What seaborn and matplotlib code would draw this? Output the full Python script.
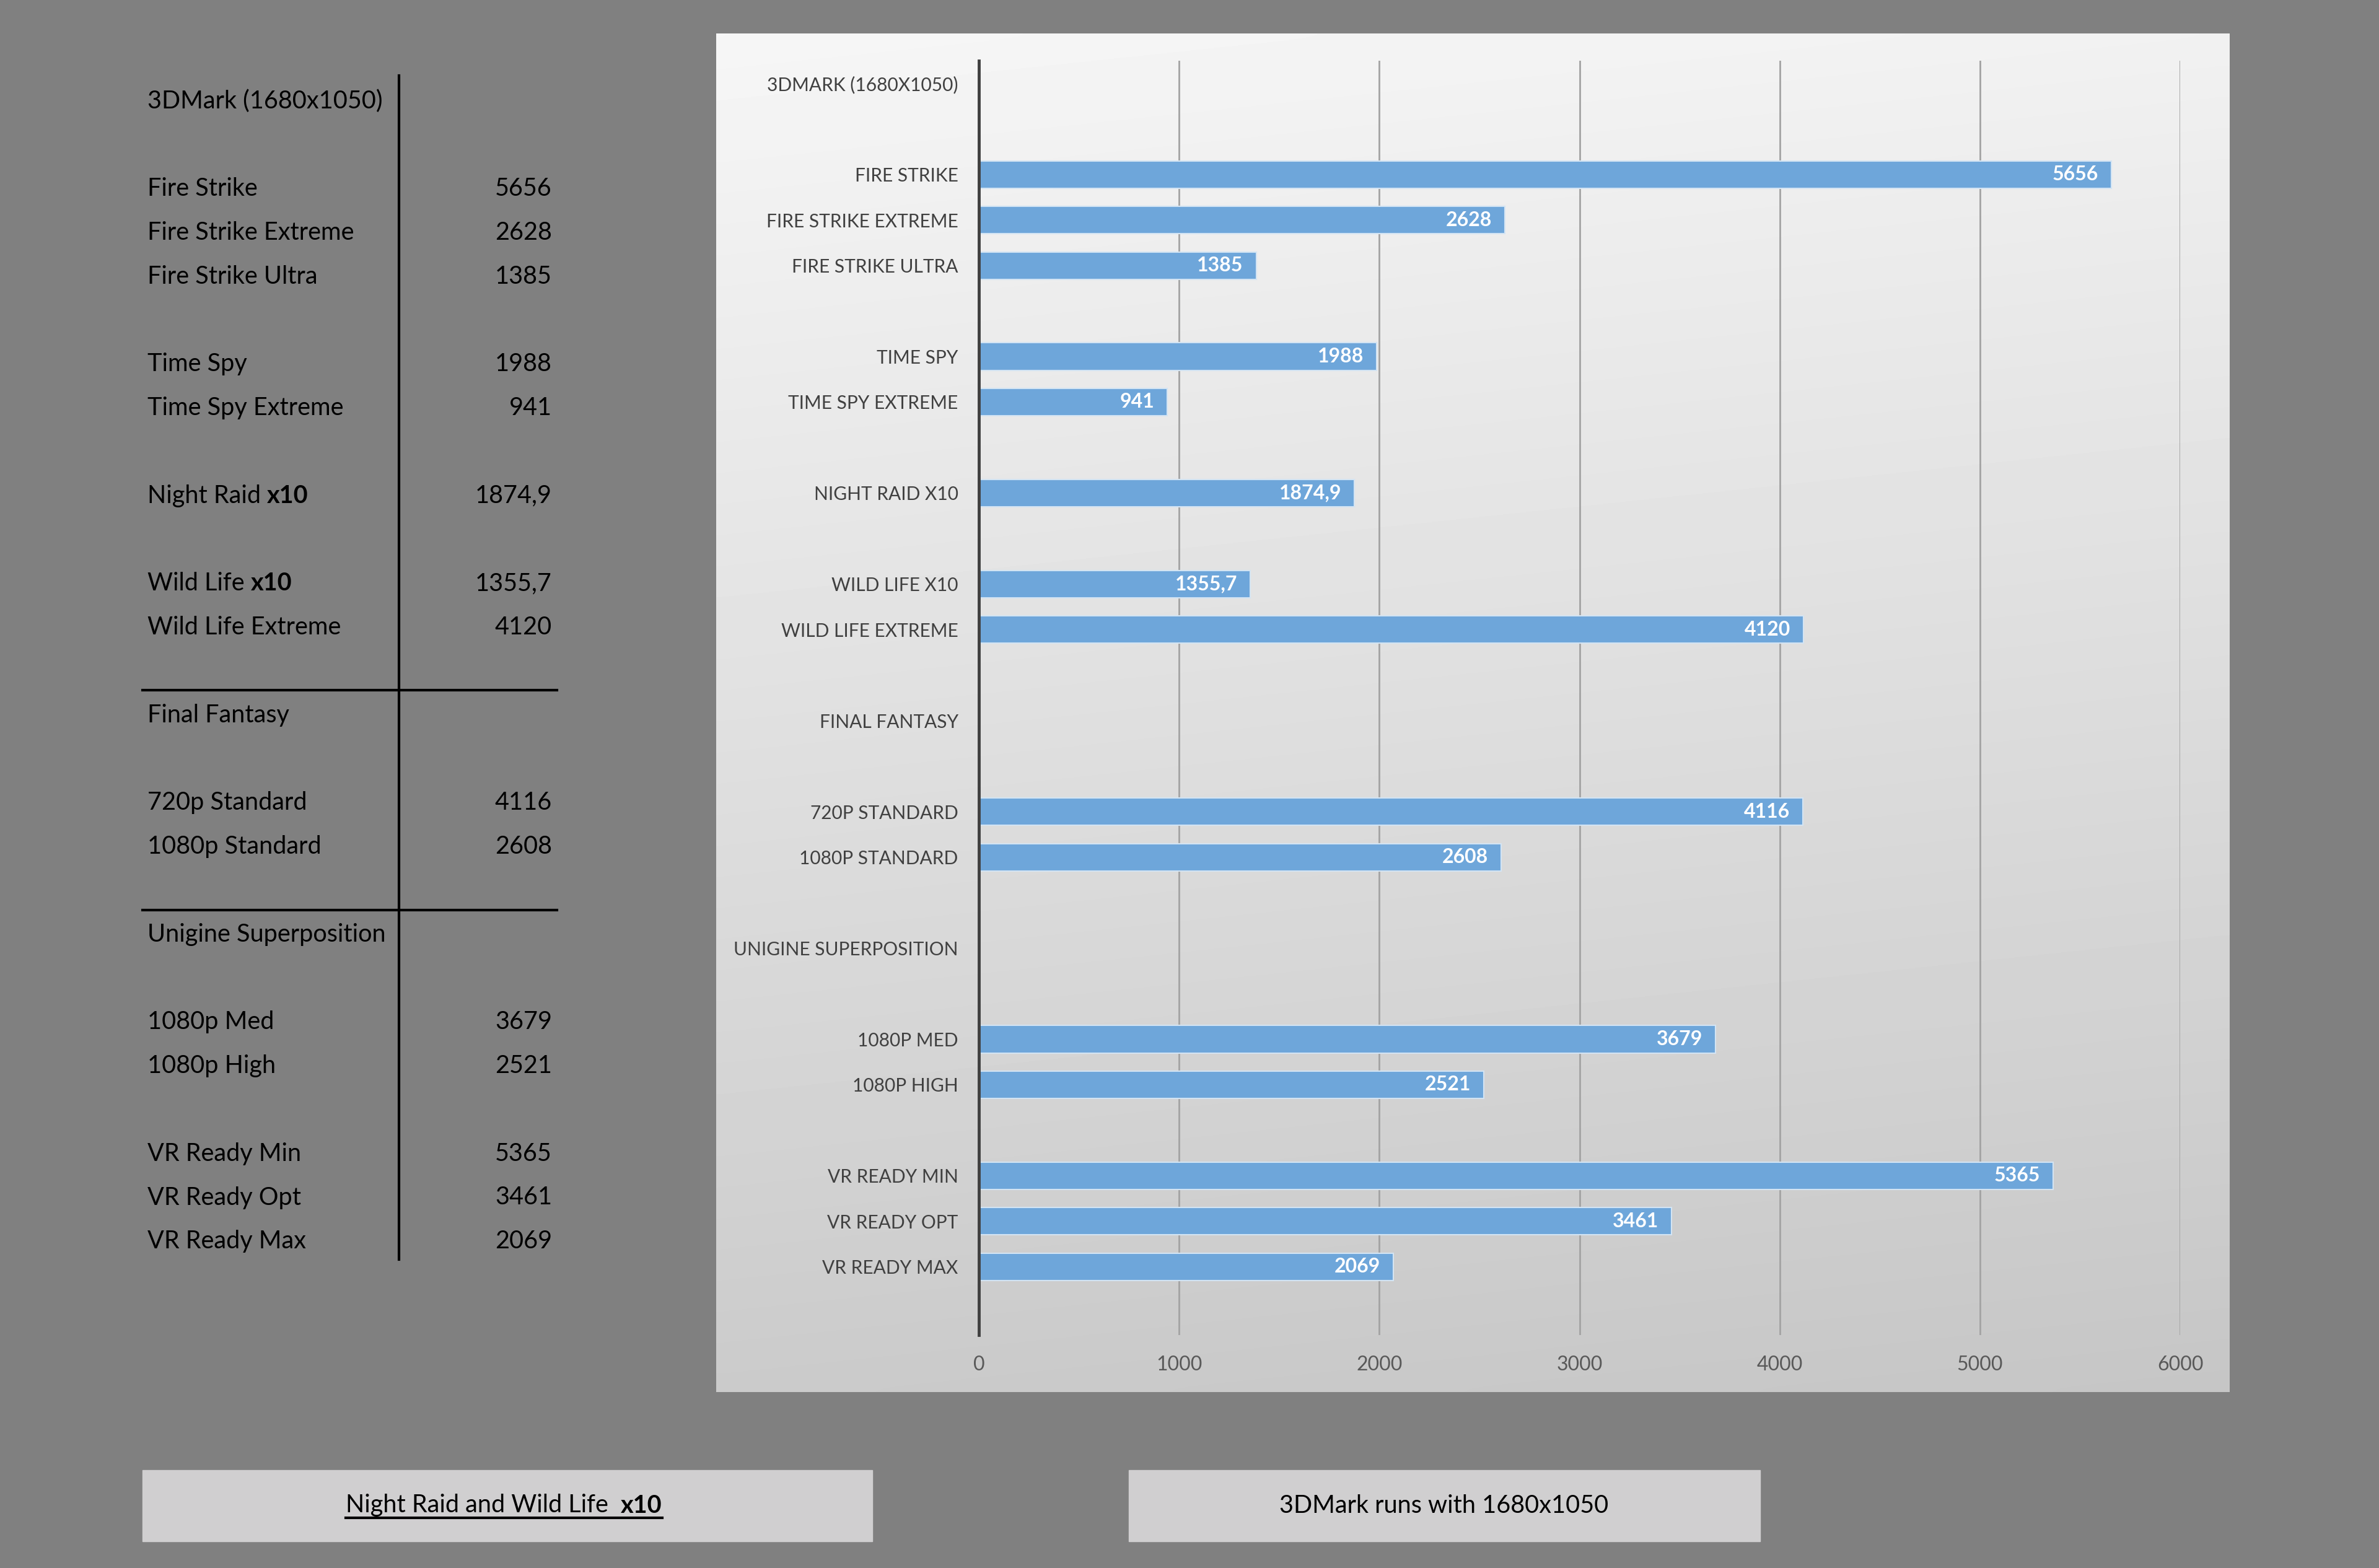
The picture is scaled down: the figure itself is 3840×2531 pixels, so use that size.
import numpy as np
import pandas as pd
import matplotlib
matplotlib.use("Agg")
import matplotlib.pyplot as plt
import seaborn as sns

nan = np.nan

# one entry per row of the table / chart (blank rows included)
table_labels = ["3DMark (1680x1050)", "", "Fire Strike", "Fire Strike Extreme", "Fire Strike Ultra", "",
                "Time Spy", "Time Spy Extreme", "", "Night Raid x10", "", "Wild Life x10", "Wild Life Extreme", "",
                "Final Fantasy", "", "720p Standard", "1080p Standard", "", "Unigine Superposition", "",
                "1080p Med", "1080p High", "", "VR Ready Min", "VR Ready Opt", "VR Ready Max"]
scores = [nan, nan, 5656, 2628, 1385, nan, 1988, 941, nan, 1874.9, nan, 1355.7, 4120, nan,
          nan, nan, 4116, 2608, nan, nan, nan, 3679, 2521, nan, 5365, 3461, 2069]
score_text = ["", "", "5656", "2628", "1385", "", "1988", "941", "", "1874,9", "", "1355,7", "4120", "",
              "", "", "4116", "2608", "", "", "", "3679", "2521", "", "5365", "3461", "2069"]
x_ticks = [0, 1000, 2000, 3000, 4000, 5000, 6000]
note_left = "Night Raid and Wild Life  "
note_left_bold = "x10"
note_right = "3DMark runs with 1680x1050"

FONT = ["Lato", "DejaVu Sans"]
plt.rcParams["font.family"] = FONT

W, H = 3840, 2531
fig = plt.figure(figsize=(W / 100, H / 100), dpi=100, facecolor="#808080")

# page overlay in pixel coords for the table and note boxes
page = fig.add_axes([0, 0, 1, 1])
page.set_xlim(0, W)
page.set_ylim(H, 0)
page.axis("off")

# --- left table ---
row0, rstep = 163, 70.8
lab_x, val_x = 238, 891
tsize = 28.5
for i, lab in enumerate(table_labels):
    y = row0 + i * rstep
    if not lab:
        continue
    if lab.endswith(" x10"):
        t = page.text(lab_x, y, lab[:-3], fontsize=tsize, va="center", ha="left", color="black")
        page.annotate("x10", xy=(1, 0), xycoords=t, va="bottom", ha="left",
                      fontsize=tsize, fontweight="bold", color="black")
    else:
        page.text(lab_x, y, lab, fontsize=tsize, va="center", ha="left", color="black")
    if score_text[i]:
        page.text(val_x, y, score_text[i], fontsize=tsize, va="center", ha="right", color="black")
page.plot([644, 644], [122, 2033], color="black", lw=3)
page.plot([230, 899], [1114, 1114], color="black", lw=3)
page.plot([230, 899], [1469, 1469], color="black", lw=3)

# --- note boxes ---
page.add_patch(plt.Rectangle((230, 2373), 1178, 115, color="#d0cfd0"))
page.add_patch(plt.Rectangle((1822, 2373), 1019, 115, color="#d0cfd0"))
t1 = page.text(820 - 40, 2430, note_left, fontsize=tsize, va="center", ha="center", color="black")
t2 = page.annotate(note_left_bold, xy=(1, 0), xycoords=t1, va="bottom", ha="left",
                   fontsize=tsize, fontweight="bold", color="black")
fig.canvas.draw()
r = fig.canvas.get_renderer()
b1 = t1.get_window_extent(r)
b2 = t2.get_window_extent(r)
uy = H - b1.y0 + 1
page.plot([b1.x0, b2.x1], [uy, uy], color="black", lw=3)
page.text(2331, 2430, note_right, fontsize=tsize, va="center", ha="center", color="black")

# --- chart panel with gradient ---
bg = fig.add_axes([1156 / W, 1 - 2247 / H, (3599 - 1156) / W, (2247 - 54) / H])
yy, xx = np.mgrid[0:1:200j, 0:1:200j]
grad = 0.965 - 0.17 * yy - 0.02 * xx
bg.imshow(grad, cmap="gray", vmin=0, vmax=1, aspect="auto", extent=(0, 1, 0, 1), interpolation="bicubic")
bg.set_xlim(0, 1)
bg.set_ylim(0, 1)
bg.axis("off")

ax = fig.add_axes([1580 / W, 1 - 2155 / H, (3519 - 1580) / W, (2155 - 98) / H])
ax.patch.set_alpha(0)

df = pd.DataFrame({"row": [str(i) for i in range(len(table_labels))], "score": scores})
sns.barplot(data=df, x="score", y="row", order=list(df["row"]), orient="h", width=0.6,
            color="#6ea6da", saturation=1, edgecolor="#d3e4f3", linewidth=1.5, ax=ax, zorder=3)

ax.set_xlim(0, 6000)
ax.set_ylim(len(table_labels) + 0.5, -0.5)
ax.set_xticks(x_ticks)
ax.set_xticklabels([str(v) for v in x_ticks])
ax.set_yticks(range(len(table_labels)))
ax.set_yticklabels([lab.upper() for lab in table_labels])
ax.set_xlabel("")
ax.set_ylabel("")
ax.tick_params(axis="x", length=0, pad=24, labelsize=23, labelcolor="#595959")
ax.tick_params(axis="y", length=0, pad=24, labelsize=21.5, labelcolor="#404040")
ax.grid(axis="x", color="#a3a3a3", lw=2, zorder=0)
ax.grid(axis="y", visible=False)
ax.set_axisbelow(True)
for s in ["top", "right", "bottom"]:
    ax.spines[s].set_visible(False)
ax.spines["left"].set_color("#404040")
ax.spines["left"].set_linewidth(3.5)
ax.spines["left"].set_zorder(5)

for i, (v, txt) in enumerate(zip(scores, score_text)):
    if txt:
        ax.annotate(txt, xy=(v, i), xytext=(-15, 0), textcoords="offset points",
                    ha="right", va="center", fontsize=23, fontweight="bold", color="white", zorder=6)

fig.savefig("out.png", dpi=100, facecolor=fig.get_facecolor())
